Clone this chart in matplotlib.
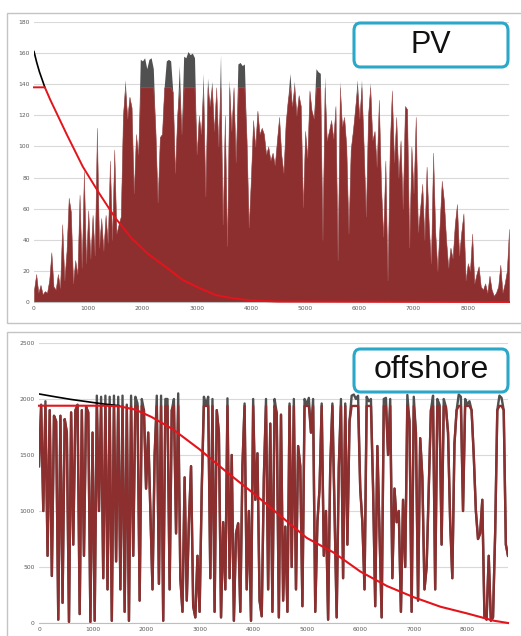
import numpy as np
import matplotlib
matplotlib.use("Agg")
import matplotlib.pyplot as plt
from matplotlib.patches import Rectangle, FancyBboxPatch

# ---------------- data ----------------
STEP = 40  # hours between samples
pv_values = [
    8, 18, 6, 11, 5, 7, 6, 14, 32, 10, 8, 18, 9, 50, 14, 33, 67, 58, 12, 27,
    18, 69, 22, 84, 25, 59, 28, 56, 30, 112, 35, 54, 33, 56, 38, 91, 40, 98, 44, 50,
    55, 120, 143, 118, 132, 125, 70, 108, 95, 156, 155, 157, 150, 156, 157, 150, 110, 64, 106, 108,
    138, 155, 156, 155, 135, 83, 120, 152, 108, 158, 157, 161, 159, 160, 157, 95, 120, 108, 147, 68,
    144, 126, 142, 110, 138, 100, 159, 50, 120, 36, 143, 110, 138, 90, 153, 154, 152, 153, 105, 48,
    80, 117, 100, 123, 108, 112, 108, 95, 100, 91, 96, 88, 104, 119, 95, 83, 115, 130, 147, 126,
    142, 120, 133, 126, 61, 110, 93, 136, 123, 118, 150, 148, 147, 40, 145, 104, 110, 117, 105, 126,
    27, 142, 113, 119, 100, 44, 98, 110, 124, 143, 118, 143, 100, 55, 120, 141, 104, 110, 87, 130,
    75, 42, 91, 14, 100, 136, 90, 119, 80, 104, 60, 126, 124, 35, 100, 70, 119, 45, 60, 76,
    40, 87, 50, 25, 96, 45, 20, 50, 78, 65, 40, 22, 35, 28, 50, 63, 30, 45, 57, 14,
    25, 20, 44, 12, 18, 23, 10, 8, 12, 6, 17, 8, 4, 6, 10, 24, 6, 12, 20, 47,
]
pv_cap = 138

pv_dur_raw_hours = [0, 50, 100, 150, 200]
pv_dur_raw = [161, 154, 148, 143, 138]
pv_dur_hours = [0, 200, 300, 600, 900, 1200, 1500, 1800, 2100, 2450, 2750,
                3050, 3350, 3650, 4000, 4500, 8760]
pv_dur = [138, 138, 130, 108, 87, 70, 54, 41, 31, 22, 14, 9, 4.5, 2.5, 1, 0.3, 0]

off_values = [
    1400, 1950, 1000, 1980, 600, 1900, 420, 1850, 1800, 30, 1850, 180, 1820, 1700, 10, 1880, 700, 1900, 1950, 80,
    1900, 600, 1930, 1880, 10, 1700, 20, 2030, 1000, 2020, 400, 2030, 300, 2020, 20, 2030, 550, 2020, 300, 2030,
    100, 1950, 20, 2030, 600, 2020, 1960, 200, 2000, 1900, 1200, 1700, 1000, 300, 1500, 2030, 350, 2030, 20, 2000,
    2000, 300, 1900, 2000, 800, 2050, 400, 100, 1300, 200, 900, 1400, 150, 50, 600, 100, 1200, 2020, 1950, 2020,
    400, 2000, 100, 1900, 1700, 50, 900, 300, 2006, 400, 1500, 20, 800, 890, 100, 1400, 1960, 300, 1000, 20,
    2000, 1100, 1515, 200, 60, 1300, 2000, 300, 1780, 100, 2000, 1875, 50, 1860, 200, 860, 100, 1960, 500, 2000,
    300, 1580, 1400, 150, 2000, 1950, 2010, 1700, 2000, 100, 900, 1200, 1960, 600, 1000, 30, 1400, 1960, 1000, 50,
    1400, 2000, 400, 1960, 700, 1800, 2030, 2040, 2000, 2030, 1200, 900, 300, 2020, 1980, 2000, 1200, 150, 1580, 800,
    50, 2000, 2010, 1500, 2000, 400, 1200, 900, 1000, 100, 1100, 500, 2036, 1800, 100, 2020, 1700, 200, 1650, 1300,
    300, 500, 1200, 1900, 2030, 300, 2000, 1950, 700, 2000, 1930, 1700, 900, 400, 1600, 1900, 2040, 2020, 1000, 2000,
    1950, 1980, 1900, 1500, 1000, 750, 800, 1100, 60, 30, 600, 20, 50, 800, 1900, 2030, 2010, 1900, 700, 600,
]
off_cap = 1938

off_dur_raw_hours = [0, 300, 600, 900, 1200, 1500]
off_dur_raw = [2045, 2020, 1996, 1976, 1956, 1940]
off_dur_hours = [0, 300, 600, 900, 1200, 1500, 1800, 2100, 2500, 3000, 3500, 4000,
                 4500, 5000, 5500, 6000, 6500, 7000, 7500, 8000, 8500, 8760]
off_dur = [1940, 1940, 1940, 1940, 1940, 1935, 1905, 1840, 1730, 1550, 1350, 1160,
           960, 760, 630, 460, 330, 230, 145, 85, 20, 0]

pv_yticks = [0, 20, 40, 60, 80, 100, 120, 140, 160, 180]
off_yticks = [0, 500, 1000, 1500, 2000, 2500]
x_ticks = [0, 1000, 2000, 3000, 4000, 5000, 6000, 7000, 8000]

# ---------------- style ----------------
W, H = 521, 636
DARK_RED = "#8e2f2f"
EDGE_RED = "#b06060"
GRAY = "#505050"
RED = "#e3141b"
GRID = "#d9d9d9"
TICK = "#595959"
TEAL = "#2aa7c9"

fig = plt.figure(figsize=(W / 100, H / 100), dpi=100)
fig.patch.set_facecolor("white")


def ax_rect(x0, y0, x1, y1):
    return [x0 / W, 1 - y1 / H, (x1 - x0) / W, (y1 - y0) / H]


def style_axis(ax, yticks, ymax):
    ax.set_xlim(0, 8760)
    ax.set_ylim(0, ymax)
    ax.set_yticks(yticks)
    ax.set_xticks(x_ticks)
    ax.set_xticklabels([str(t) for t in x_ticks])
    ax.yaxis.grid(True, color=GRID, linewidth=0.8)
    ax.set_axisbelow(True)
    for s in ("top", "right", "left"):
        ax.spines[s].set_visible(False)
    ax.spines["bottom"].set_color("#bfbfbf")
    ax.spines["bottom"].set_linewidth(0.8)
    ax.tick_params(axis="both", length=0, labelsize=4.3, labelcolor=TICK, pad=3)


# outer frames of the two panels
fig.add_artist(Rectangle((7 / W, 1 - 323 / H), 1, (323 - 13) / H, transform=fig.transFigure,
                         fill=False, edgecolor="#c4c4c4", linewidth=1.0))
fig.add_artist(Rectangle((7 / W, -0.1), 1, 0.1 + (636 - 332) / H, transform=fig.transFigure,
                         fill=False, edgecolor="#c4c4c4", linewidth=1.0))

# ---------------- PV panel ----------------
ax1 = fig.add_axes(ax_rect(34, 22, 509, 302))
pv = np.array(pv_values, dtype=float)
hours_pv = np.arange(len(pv)) * STEP
ax1.fill_between(hours_pv, 0, pv, color=GRAY, linewidth=0)
ax1.fill_between(hours_pv, 0, np.minimum(pv, pv_cap), facecolor=DARK_RED,
                 edgecolor=EDGE_RED, linewidth=0.35)
ax1.plot(pv_dur_raw_hours, pv_dur_raw, color="black", linewidth=1.2, zorder=4)
ax1.plot(pv_dur_hours, pv_dur, color=RED, linewidth=1.4, zorder=5, clip_on=False)
style_axis(ax1, pv_yticks, 180)

# ---------------- offshore panel ----------------
ax2 = fig.add_axes(ax_rect(39, 343, 508, 623))
off = np.array(off_values, dtype=float)
hours_off = np.arange(len(off)) * STEP
ax2.plot(hours_off, off, color=GRAY, linewidth=1.7)
ax2.plot(hours_off, np.minimum(off, off_cap), color=DARK_RED, linewidth=1.7)
ax2.plot(off_dur_raw_hours, off_dur_raw, color="black", linewidth=1.2, zorder=4)
ax2.plot(off_dur_hours, off_dur, color=RED, linewidth=1.5, zorder=5, clip_on=False)
style_axis(ax2, off_yticks, 2500)

# ---------------- label boxes ----------------
def label_box(x0, y0, x1, y1, text, size):
    box = FancyBboxPatch((x0 / W, 1 - y1 / H), (x1 - x0) / W, (y1 - y0) / H,
                         boxstyle="round,pad=0,rounding_size=0.012",
                         transform=fig.transFigure, facecolor="white",
                         edgecolor=TEAL, linewidth=2.2, zorder=10)
    fig.add_artist(box)
    fig.text((x0 + x1) / 2 / W, 1 - (y0 + y1) / 2 / H, text, ha="center", va="center",
             fontsize=size, family="Liberation Sans", color="#111111", zorder=11)


label_box(354, 23, 508, 67, "PV", 22)
label_box(354, 349, 508, 392, "offshore", 23)

fig.savefig("out.png", dpi=100, facecolor="white")
